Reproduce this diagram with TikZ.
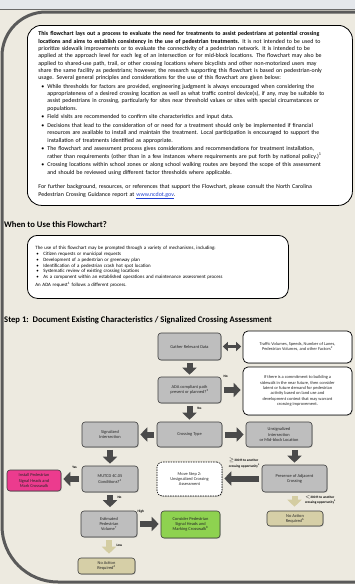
\documentclass[tikz,border=0pt]{standalone}
\usepackage{fontspec}
\setmainfont{Carlito}
\usetikzlibrary{arrows.meta,shadows}

\definecolor{paper}{HTML}{EDEAE0}
\definecolor{band}{HTML}{E4E7EB}
\definecolor{bandline}{HTML}{6A6A6A}
\definecolor{frameline}{HTML}{5A5A5A}
\definecolor{boxgray}{HTML}{BEBEBE}
\definecolor{boxline}{HTML}{3C3C3C}
\definecolor{arrdark}{HTML}{4A4A4A}
\definecolor{tanfill}{HTML}{D6CFA7}
\definecolor{tanarrow}{HTML}{D4CDA2}
\definecolor{pinkfill}{HTML}{EC3B8E}
\definecolor{greenfill}{HTML}{8ED250}
\definecolor{linkblue}{HTML}{1F3FD0}

\newcommand{\bul}{\par\vspace{1.4pt}\hangindent=9pt\hangafter=1\noindent\hbox to 9pt{\hskip3pt\textbullet\hfil}}
\newcommand{\bulsmall}{\par\hangindent=8pt\hangafter=1\noindent\hbox to 8pt{\hskip1pt\textbullet\hfil}}

\begin{document}
\begin{tikzpicture}[x=1pt, y=-1pt, line join=round,
  panel/.style={draw=black, fill=white, line width=0.8pt, align=left},
  head/.style={anchor=west, inner sep=0pt, font=\fontsize{8.6}{10}\selectfont\bfseries},
  box/.style={draw=boxline, line width=0.6pt, rounded corners=3pt, align=center, inner sep=1pt,
    font=\fontsize{4.4}{5.3}\selectfont, text=black!85,
    drop shadow={shadow xshift=0.8pt, shadow yshift=-0.8pt, opacity=0.35}},
  graybox/.style={box, fill=boxgray},
  notebox/.style={box, fill=white, draw=black, line width=0.7pt, rounded corners=5pt},
  tanbox/.style={box, fill=tanfill},
  blk/.style={draw=arrdark, line width=6pt, -{Triangle[width=14pt,length=7pt]}, shorten <=2.5pt, shorten >=2pt},
  tanblk/.style={blk, draw=tanarrow},
  dbl/.style={draw=arrdark, line width=3.5pt, {Triangle[width=9pt,length=5pt]}-{Triangle[width=9pt,length=5pt]}, shorten <=1.5pt, shorten >=1.5pt},
  tag/.style={inner sep=0.5pt, align=left, font=\fontsize{3.4}{3.9}\selectfont\bfseries}]
\useasboundingbox (0,0) rectangle (355,584);
\fill[paper] (0,0) rectangle (355,584);
\fill[band] (0,0) rectangle (355,9);
\draw[bandline, line width=1.2pt] (0,9.6) -- (355,9.6);
\draw[frameline, line width=3pt] (360,12) -- (46,12) arc[start angle=90, end angle=180, radius=44pt]
  -- (2,526) arc[start angle=180, end angle=270, radius=56pt] -- (360,582);

\node[panel, rounded corners=14pt, anchor=north west, minimum width=325pt, minimum height=180pt,
  text width=303pt, inner xsep=11pt, font=\fontsize{5.9}{7.3}\selectfont] (intro) at (27,25) {%
\textbf{This flowchart lays out a process to evaluate the need for treatments to assist pedestrians at potential crossing}\newline
\textbf{locations and aims to establish consistency in the use of pedestrian treatments.} It is not intended to be used to\newline
prioritize sidewalk improvements or to evaluate the connectivity of a pedestrian network. It is intended to be\newline
applied at the approach level for each leg of an intersection or for mid-block locations. The flowchart may also be\newline
applied to shared-use path, trail, or other crossing locations where bicyclists and other non-motorized users may\newline
share the same facility as pedestrians; however, the research supporting this flowchart is based on pedestrian-only\newline
usage. Several general principles and considerations for the use of this flowchart are given below:
\bul While thresholds for factors are provided, engineering judgment is always encouraged when considering the\newline
appropriateness of a desired crossing location as well as what traffic control device(s), if any, may be suitable to\newline
assist pedestrians in crossing, particularly for sites near threshold values or sites with special circumstances or\newline
populations.
\bul Field visits are recommended to confirm site characteristics and input data.
\bul Decisions that lead to the consideration of or need for a treatment should only be implemented if financial\newline
resources are available to install and maintain the treatment. Local participation is encouraged to support the\newline
installation of treatments identified as appropriate.
\bul The flowchart and assessment process gives considerations and recommendations for treatment installation,\newline
rather than requirements (other than in a few instances where requirements are put forth by national policy.)\textsuperscript{1}
\bul Crossing locations within school zones or along school walking routes are beyond the scope of this assessment\newline
and should be reviewed using different factor thresholds where applicable.
\par\vspace{7.3pt}\noindent For further background, resources, or references that support the Flowchart, please consult the North Carolina\newline
Pedestrian Crossing Guidance report at \textcolor{linkblue}{\underline{www.ncdot.gov}}.};

\node[head] (whenhead) at (4,225) {When to Use this Flowchart?};

\node[panel, rounded corners=10pt, anchor=north west, minimum width=261pt, minimum height=63pt,
  text width=245pt, inner xsep=8pt, font=\fontsize{4.9}{5.8}\selectfont] (when) at (27,235) {%
The use of this flowchart may be prompted through a variety of mechanisms, including:
\bulsmall Citizen requests or municipal requests
\bulsmall Development of a pedestrian or greenway plan
\bulsmall Identification of a pedestrian crash hot spot location
\bulsmall Systematic review of existing crossing locations
\bulsmall As a component within an established operations and maintenance assessment process
\par\vspace{2.3pt}\noindent An ADA request\textsuperscript{1} follows a different process.
\par\vspace{10pt}};

\node[head] (stephead) at (4,320) {Step 1:\ \ Document Existing Characteristics / Signalized Crossing Assessment};

\node[graybox, minimum width=63pt, minimum height=27pt] (gather) at (189.5,346.5) {Gather Relevant Data};
\node[notebox, minimum width=109pt, minimum height=32pt] (factors) at (297.5,347) {Traffic Volumes, Speeds, Number of Lanes,\\Pedestrian Volumes, and other Factors\textsuperscript{2}};
\node[graybox, minimum width=63pt, minimum height=26pt] (ada) at (189.5,390) {ADA compliant path\\present or planned?\textsuperscript{3}};
\node[notebox, minimum width=109pt, minimum height=48pt] (sidewalk) at (297.5,391) {If there is a commitment to building a\\sidewalk in the near future, then consider\\latent or future demand for pedestrian\\activity based on land use and\\development context that may warrant\\crossing improvement.};
\node[graybox, minimum width=65pt, minimum height=25pt] (crosstype) at (189.5,434.5) {Crossing Type};
\node[graybox, minimum width=56pt, minimum height=25pt] (signal) at (110,434.5) {Signalized\\Intersection};
\node[graybox, minimum width=66pt, minimum height=25pt] (unsignal) at (279,434.5) {Unsignalized\\Intersection\\or Mid-block Location};
\node[graybox, minimum width=56pt, minimum height=26pt] (mutcd) at (110,479) {MUTCD 4C.05\\Conditions?\textsuperscript{4}};
\node[box, fill=pinkfill, minimum width=54pt, minimum height=21pt] (install) at (34,480.5) {Install Pedestrian\\Signal Heads and\\Mark Crosswalk};
\node[box, fill=white, draw=black, dash pattern=on 1.5pt off 1pt, rounded corners=5pt, minimum width=65pt, minimum height=34pt] (step2) at (189.5,479) {Move Step 2:\\Unsignalized Crossing\\Assessment};
\node[graybox, minimum width=65pt, minimum height=27pt] (adjacent) at (294.5,478.5) {Presence of Adjacent\\Crossing};
\node[graybox, minimum width=56pt, minimum height=26pt] (pedvol) at (109,524) {Estimated\\Pedestrian\\Volume\textsuperscript{7}};
\node[box, fill=greenfill, minimum width=59pt, minimum height=27pt] (consider) at (190.5,524.5) {Consider Pedestrian\\Signal Heads and\\Marking Crosswalk\textsuperscript{8}};
\node[tanbox, minimum width=57pt, minimum height=16pt] (noactL) at (106.5,566) {No Action\\Required\textsuperscript{6}};
\node[tanbox, minimum width=56pt, minimum height=15pt] (noactR) at (295,518.5) {No Action\\Required\textsuperscript{6}};

\draw[dbl] (gather.east) -- (gather.east -| factors.west);
\draw[blk] (gather) -- (ada);
\draw[blk] (ada.east) -- (ada.east -| sidewalk.west) node[tag, pos=0.2, above=9pt] {No};
\draw[blk] (ada) -- (crosstype) node[tag, pos=0.3, right=4pt] {Yes};
\draw[blk] (crosstype) -- (signal);
\draw[blk] (crosstype) -- (unsignal);
\draw[blk] (signal) -- (mutcd);
\draw[blk] (unsignal.south -| adjacent) -- (adjacent);
\draw[blk] (mutcd.west) -- (mutcd.west -| install.east) node[tag, pos=0.35, above=7pt] {Yes};
\draw[blk] (adjacent.west) -- (adjacent.west -| step2.east)
  node[tag, pos=0.92, anchor=south west, yshift=7pt] {$\geq$300 ft to another\\crossing opportunity\textsuperscript{5}};
\draw[tanblk, shorten <=4pt, shorten >=4pt] (adjacent.south) -- (adjacent.south |- noactR.north)
  node[tag, pos=0.4, right=7pt] {$<$300 ft to another\\crossing opportunity\textsuperscript{5}};
\draw[blk, shorten <=3pt, shorten >=3.5pt] (mutcd.south) -- (mutcd.south |- pedvol.north) node[tag, pos=0.3, right=4pt] {No};
\draw[blk] (pedvol.east) -- (pedvol.east -| consider.west) node[tag, pos=0.15, above=7pt] {High};
\draw[tanblk, shorten <=3pt, shorten >=4pt] (pedvol.south) -- (pedvol.south |- noactL.north) node[tag, pos=0.4, right=4pt] {Low};
\end{tikzpicture}
\end{document}
